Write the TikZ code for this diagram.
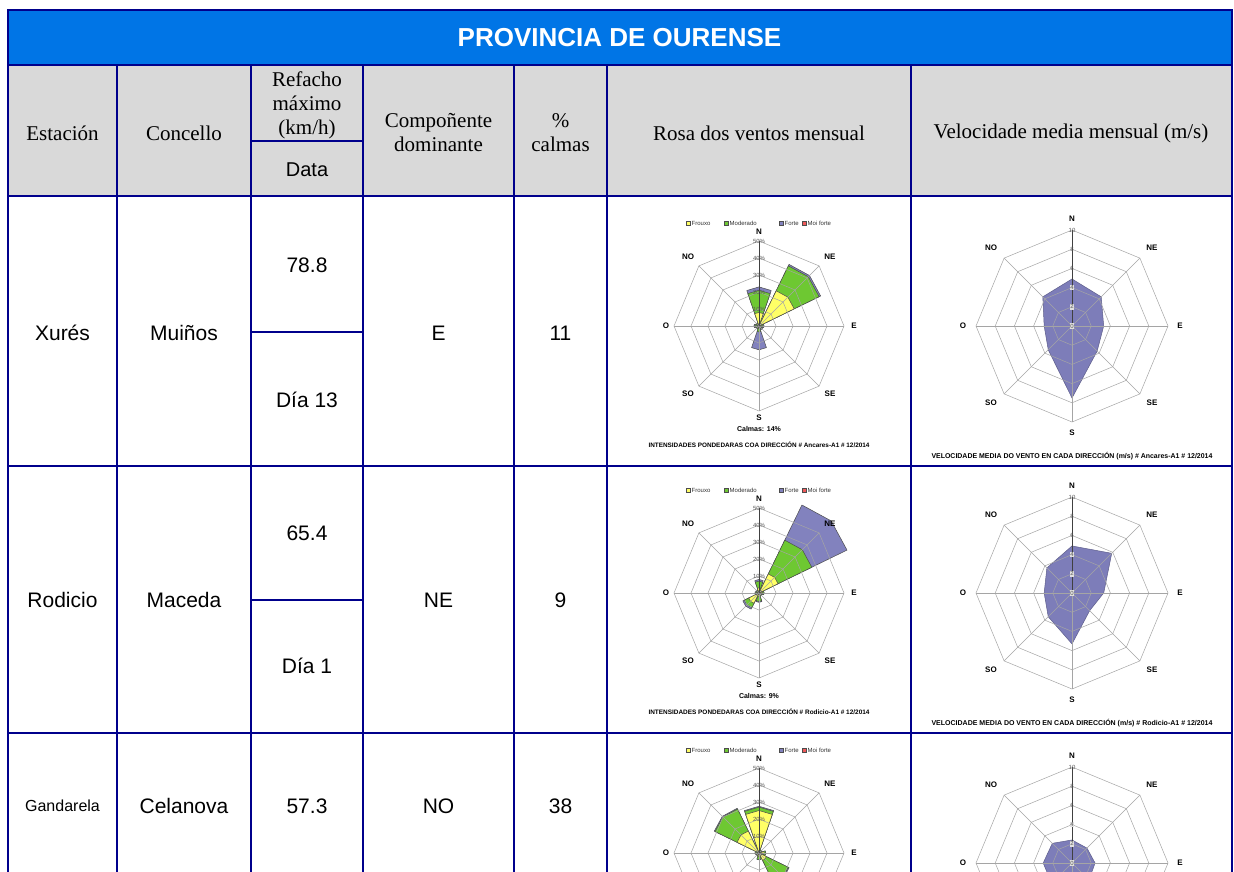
\documentclass[tikz,border=0pt]{standalone}
\usepackage{fontspec}
\usepackage{graphicx}
\setmainfont{Liberation Serif}
\setsansfont{Liberation Sans}
\definecolor{tblue}{RGB}{0,0,140}
\definecolor{hdrblue}{RGB}{0,117,230}
\definecolor{hdrgray}{RGB}{217,217,217}
\definecolor{frouxo}{RGB}{255,255,102}
\definecolor{moderado}{RGB}{110,200,50}
\definecolor{forte}{RGB}{130,130,190}
\definecolor{moiforte}{RGB}{240,90,90}
\definecolor{velfill}{RGB}{125,125,185}
\definecolor{chartgrid}{RGB}{165,165,165}

% petal: angle, frouxo, moderado, forte (cumulative %)
\newcommand\rp[4]{%
  \path[petal,fill=forte] (0,0) -- ({#1-19}:{1.632*#4}) -- (#1:{1.7*#4}) -- ({#1+19}:{1.632*#4}) -- cycle;
  \path[petal,fill=moderado] (0,0) -- ({#1-19}:{1.632*#3}) -- (#1:{1.7*#3}) -- ({#1+19}:{1.632*#3}) -- cycle;
  \path[petal,fill=frouxo] (0,0) -- ({#1-19}:{1.632*#2}) -- (#1:{1.7*#2}) -- ({#1+19}:{1.632*#2}) -- cycle;
}
\newcommand\roseupper[1]{%
  \foreach \k in {1,...,5}{\draw[cgrid] (0:{17*\k}) -- (45:{17*\k}) -- (90:{17*\k}) -- (135:{17*\k}) -- (180:{17*\k}) -- (225:{17*\k}) -- (270:{17*\k}) -- (315:{17*\k}) -- cycle;}
  \foreach \a in {0,45,135,180,225,270,315}{\draw[cgrid] (0,0) -- (\a:85);}
  \draw[axisN] (0,0) -- (90:85);
  \node[ringlab] (#1-p0) at (0,0) {0\%};
  \node[ringlab] (#1-p1) at (0,17) {10\%};
  \node[ringlab] (#1-p2) at (0,34) {20\%};
  \node[ringlab] (#1-p3) at (0,51) {30\%};
  \node[ringlab] (#1-p4) at (0,68) {40\%};
  \node[ringlab] (#1-p5) at (0,85) {50\%};
  \node[dirlab] (#1-N) at (0,94) {N};
  \node[dirlab] (#1-NE) at (71,69) {NE};
  \node[dirlab] (#1-NO) at (-71,69) {NO};
  \node[dirlab] (#1-E) at (95,0) {E};
  \node[dirlab] (#1-O) at (-93,0) {O};
  \node[legsq,fill=frouxo] (#1-q1) at (-71,103) {};
  \node[legtx] (#1-l1) at (-67.5,103) {Frouxo};
  \node[legsq,fill=moderado] (#1-q2) at (-33,103) {};
  \node[legtx] (#1-l2) at (-29.5,103) {Moderado};
  \node[legsq,fill=forte] (#1-q3) at (22,103) {};
  \node[legtx] (#1-l3) at (25.5,103) {Forte};
  \node[legsq,fill=moiforte] (#1-q4) at (45,103) {};
  \node[legtx] (#1-l4) at (48.5,103) {Moi forte};
}
\newcommand\roselower[3]{%
  \node[dirlab] (#1-SE) at (71,-68) {SE};
  \node[dirlab] (#1-SO) at (-71,-68) {SO};
  \node[dirlab] (#1-S) at (0,-92) {S};
  \node[calm] (#1-calm) at (0,-103) {#2};
  \node[captxt] (#1-cap) at (0,-119) {\resizebox{221pt}{!}{\sffamily\bfseries #3}};
}
% velocity polygon: N NE E SE S SO O NO
\newcommand\vpoly[8]{%
  \path[fill=velfill,draw=velfill!75!black,line width=0.5pt,line join=round] (90:{9.6*#1}) -- (45:{9.6*#2}) -- (0:{9.6*#3}) -- (-45:{9.6*#4}) -- (-90:{9.6*#5}) -- (-135:{9.6*#6}) -- (180:{9.6*#7}) -- (135:{9.6*#8}) -- cycle;
}
\newcommand\velupper[1]{%
  \foreach \k in {1,...,5}{\draw[cgrid] (0:{19.2*\k}) -- (45:{19.2*\k}) -- (90:{19.2*\k}) -- (135:{19.2*\k}) -- (180:{19.2*\k}) -- (225:{19.2*\k}) -- (270:{19.2*\k}) -- (315:{19.2*\k}) -- cycle;}
  \foreach \a in {0,45,135,180,225,270,315}{\draw[cgrid] (0,0) -- (\a:96);}
  \draw[axisN] (0,0) -- (90:96);
  \node[ringlab,fill=black!12] (#1-v0) at (0,0) {0};
  \node[ringlab,fill=black!12] (#1-v2) at (0,19.2) {2};
  \node[ringlab,fill=black!12] (#1-v4) at (0,38.4) {4};
  \node[ringlab] (#1-v6) at (0,57.6) {6};
  \node[ringlab] (#1-v8) at (0,76.8) {8};
  \node[ringlab] (#1-v10) at (0,96) {10};
  \node[dirlab] (#1-N) at (0,107) {N};
  \node[dirlab] (#1-NE) at (80,78) {NE};
  \node[dirlab] (#1-NO) at (-81,78) {NO};
  \node[dirlab] (#1-E) at (108,0) {E};
  \node[dirlab] (#1-O) at (-109,0) {O};
}
\newcommand\vellower[2]{%
  \node[dirlab] (#1-SE) at (80,-77) {SE};
  \node[dirlab] (#1-SO) at (-81,-77) {SO};
  \node[dirlab] (#1-S) at (0,-107) {S};
  \node[captxt] (#1-cap) at (0,-130) {\resizebox{281pt}{!}{\sffamily\bfseries #2}};
}

\begin{document}
\begin{tikzpicture}[x=1pt,y=-1pt,
  tline/.style={draw=tblue,line width=2pt,line cap=rect},
  hdrtxt/.style={font=\fontsize{21}{24}\selectfont,align=center,inner sep=0pt},
  celltxt/.style={font=\sffamily\fontsize{21}{24}\selectfont,inner sep=0pt},
  titletxt/.style={font=\sffamily\bfseries\fontsize{26}{30}\selectfont,text=white,inner sep=0pt},
  dirlab/.style={font=\sffamily\bfseries\fontsize{8}{9}\selectfont,inner sep=0pt},
  ringlab/.style={font=\sffamily\fontsize{6}{7}\selectfont,text=black!65,inner sep=0.6pt},
  cgrid/.style={draw=chartgrid,line width=0.5pt},
  axisN/.style={draw=black!75,line width=0.6pt},
  petal/.style={draw=black!70,line width=0.5pt,line join=round},
  legsq/.style={draw=black!70,line width=0.4pt,minimum size=4.5pt,inner sep=0pt},
  legtx/.style={font=\sffamily\fontsize{6}{7}\selectfont,text=black!80,inner sep=0pt,anchor=west},
  captxt/.style={inner sep=0pt},
  calm/.style={font=\sffamily\bfseries\fontsize{7}{8}\selectfont,inner sep=0pt},
]
\useasboundingbox (0,0) rectangle (1234,871);
\clip (0,0) rectangle (1234,871);
\fill[white] (0,0) rectangle (1234,871);
\fill[hdrblue] (8,10) rectangle (1231.5,65);
\fill[hdrgray] (8,65) rectangle (1231.5,196);

% title and header
\node[titletxt] (title) at (619.5,38) {PROVINCIA DE OURENSE};
\node[hdrtxt] (hEst) at (62.5,133) {Estación};
\node[hdrtxt] (hCon) at (184,133) {Concello};
\node[hdrtxt] (hRef) at (307,105) {Refacho\\máximo\\(km/h)};
\node[celltxt,font=\sffamily\fontsize{20}{24}\selectfont] (hData) at (307,170) {Data};
\node[hdrtxt] (hComp) at (438.5,132.5) {Compoñente\\dominante};
\node[hdrtxt] (hCalm) at (560.5,132.5) {\%\\calmas};
\node[hdrtxt] (hRosa) at (759,133) {Rosa dos ventos mensual};
\node[hdrtxt] (hVel) at (1071,133) {Velocidade media mensual (m/s)};

% row 1
\node[celltxt] (r1est) at (62.5,333) {Xurés};
\node[celltxt] (r1con) at (184,333) {Muiños};
\node[celltxt] (r1ref) at (307,265) {78.8};
\node[celltxt] (r1dat) at (307,400) {Día 13};
\node[celltxt] (r1comp) at (438.5,333) {E};
\node[celltxt] (r1calm) at (560.5,333) {11};
% row 2
\node[celltxt] (r2est) at (62.5,600) {Rodicio};
\node[celltxt] (r2con) at (184,600) {Maceda};
\node[celltxt] (r2ref) at (307,533) {65.4};
\node[celltxt] (r2dat) at (307,666) {Día 1};
\node[celltxt] (r2comp) at (438.5,600) {NE};
\node[celltxt] (r2calm) at (560.5,600) {9};
% row 3
\node[celltxt,font=\sffamily\fontsize{16}{18}\selectfont] (r3est) at (62.5,806) {Gandarela};
\node[celltxt] (r3con) at (184,806) {Celanova};
\node[celltxt] (r3ref) at (307,806) {57.3};
\node[celltxt] (r3comp) at (438.5,806) {NO};
\node[celltxt] (r3calm) at (560.5,806) {38};

% rose 1
\begin{scope}[shift={(759,326)},yscale=-1]
  \rp{45}{24}{41}{42}
  \rp{90}{8}{21}{23}
  \rp{270}{1.5}{3.5}{14}
  \rp{0}{1}{2.5}{3}
  \rp{315}{1}{2}{2.5}
  \rp{225}{1}{2}{2}
  \rp{180}{1}{2.5}{3}
  \rp{135}{1}{2}{2}
  \roseupper{ra}
  \roselower{ra}{Calmas: 14\%}{INTENSIDADES PONDEDARAS COA DIRECCIÓN \# Ancares-A1 \# 12/2014}
\end{scope}
% rose 2
\begin{scope}[shift={(759,593)},yscale=-1]
  \rp{45}{13}{36}{60}
  \rp{90}{3}{7}{8}
  \rp{225}{7}{10}{11}
  \rp{270}{2}{5}{5.5}
  \rp{0}{2}{3}{3}
  \rp{315}{1}{2}{2}
  \rp{180}{1}{2}{2}
  \rp{135}{1}{2}{2}
  \roseupper{rb}
  \roselower{rb}{Calmas: 9\%}{INTENSIDADES PONDEDARAS COA DIRECCIÓN \# Rodicio-A1 \# 12/2014}
\end{scope}
% rose 3 (cut by the page edge)
\begin{scope}[shift={(759,853)},yscale=-1]
  \rp{90}{25}{27}{27.5}
  \rp{135}{15}{30}{30.5}
  \rp{315}{5}{20}{20.5}
  \rp{0}{3}{4}{4}
  \rp{270}{2}{4}{4}
  \rp{45}{1}{2}{2}
  \rp{180}{1}{2}{2}
  \rp{225}{1}{2}{2}
  \roseupper{rc}
\end{scope}

% velocity 1
\begin{scope}[shift={(1072,326)},yscale=-1]
  \vpoly{4.9}{4.3}{3.3}{3.7}{7.5}{3.5}{2.9}{4.3}
  \velupper{va}
  \vellower{va}{VELOCIDADE MEDIA DO VENTO EN CADA DIRECCIÓN (m/s) \# Ancares-A1 \# 12/2014}
\end{scope}
% velocity 2
\begin{scope}[shift={(1072,593)},yscale=-1]
  \vpoly{4.9}{5.85}{3.3}{2.6}{5.3}{3.5}{2.9}{3.7}
  \velupper{vb}
  \vellower{vb}{VELOCIDADE MEDIA DO VENTO EN CADA DIRECCIÓN (m/s) \# Rodicio-A1 \# 12/2014}
\end{scope}
% velocity 3 (cut by the page edge)
\begin{scope}[shift={(1072,863)},yscale=-1]
  \vpoly{2.4}{2.2}{2.4}{2.5}{3}{3}{3}{2.9}
  \velupper{vc}
\end{scope}

% table lines
\foreach \yy in {10,65,196,466,733}{\draw[tline] (8,\yy) -- (1231.5,\yy);}
\foreach \xx in {8,1231.5}{\draw[tline] (\xx,10) -- (\xx,880);}
\foreach \xx in {117,251,363,514,607,911}{\draw[tline] (\xx,65) -- (\xx,880);}
\foreach \yy in {141,332,600}{\draw[tline] (251,\yy) -- (363,\yy);}
\end{tikzpicture}
\end{document}
